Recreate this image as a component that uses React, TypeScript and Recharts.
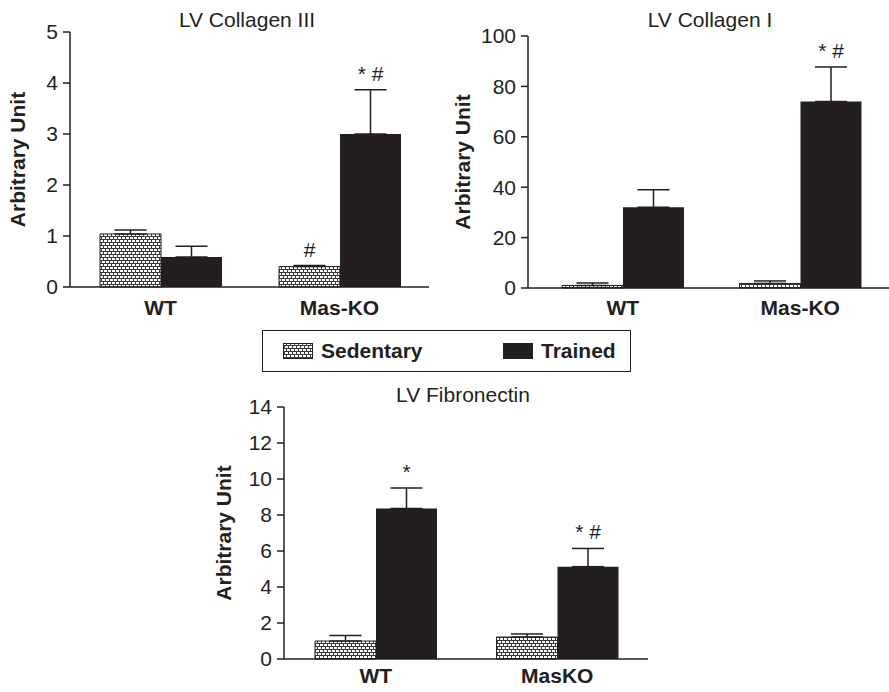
import { Bar, BarChart, ErrorBar, LabelList, Label, XAxis, YAxis } from 'recharts';

// groups on the x axis
const groups = ['WT', 'Mas-KO'];
const fibroGroups = ['WT', 'MasKO'];

const seriesNames = ['Sedentary', 'Trained'];

// LV Collagen III
const col3Sed = [1.04, 0.4];
const col3SedErr = [0.08, 0.02];
const col3SedNote = ['', '#'];
const col3Tr = [0.59, 3.0];
const col3TrErr = [0.21, 0.87];
const col3TrNote = ['', '* #'];
const col3Ticks = [0, 1, 2, 3, 4, 5];

// LV Collagen I
const col1Sed = [1.0, 1.8];
const col1SedErr = [1.0, 1.0];
const col1SedNote = ['', ''];
const col1Tr = [32, 74];
const col1TrErr = [7, 13.7];
const col1TrNote = ['', '* #'];
const col1Ticks = [0, 20, 40, 60, 80, 100];

// LV Fibronectin
const fibSed = [1.0, 1.22];
const fibSedErr = [0.3, 0.17];
const fibSedNote = ['', ''];
const fibTr = [8.36, 5.13];
const fibTrErr = [1.14, 1.01];
const fibTrNote = ['*', '* #'];
const fibTicks = [0, 2, 4, 6, 8, 10, 12, 14];

const ink = '#231f20';
const font = '"Liberation Sans", Arial, Helvetica, sans-serif';

function buildRows(cats: string[], sed: number[], sedErr: number[], sedNote: string[], tr: number[], trErr: number[], trNote: string[]) {
  return cats.map((group, i) => ({
    group,
    sed: sed[i],
    sedErr: [0, sedErr[i]],
    sedCap: sedErr[i],
    sedNote: sedNote[i],
    tr: tr[i],
    trErr: [0, trErr[i]],
    trCap: trErr[i],
    trNote: trNote[i],
  }));
}

function PatternDef({ id }: { id: string }) {
  return (
    <pattern id={id} width={4} height={6} patternUnits="userSpaceOnUse">
      <rect width={4} height={6} fill="#3a3a3a" />
      <rect x={0} y={0} width={3} height={2} fill="#fff" />
      <rect x={2} y={3} width={3} height={2} fill="#fff" />
      <rect x={-2} y={3} width={3} height={2} fill="#fff" />
    </pattern>
  );
}

interface PanelProps {
  id: string;
  rows: ReturnType<typeof buildRows>;
  ticks: number[];
  title: string;
  left: number;
  top: number;
  width: number;
  height: number;
  margin: { top: number; right: number; bottom: number; left: number };
  yWidth: number;
  yLabelDx: number;
  xHeight: number;
  xGap: number;
  padLeft: number;
  titleX: number;
  titleTop: number;
}

function Panel(p: PanelProps) {
  const max = p.ticks[p.ticks.length - 1];
  return (
    <>
      <div
        style={{
          position: 'absolute',
          left: p.titleX - 150,
          top: p.titleTop,
          width: 300,
          textAlign: 'center',
          fontSize: 21,
          lineHeight: '21px',
          color: ink,
        }}
      >
        {p.title}
      </div>
      <div style={{ position: 'absolute', left: p.left, top: p.top }}>
        <BarChart width={p.width} height={p.height} data={p.rows} margin={p.margin} barGap={0} barSize={61}>
          <defs>
            <PatternDef id={p.id} />
          </defs>
          <XAxis
            dataKey="group"
            height={p.xHeight}
            padding={{ left: p.padLeft, right: 0 }}
            tickLine={false}
            tickSize={0}
            tickMargin={p.xGap}
            axisLine={{ stroke: ink, strokeWidth: 1.5 }}
            tick={{ fill: ink, fontSize: 21, fontWeight: 'bold' }}
          />
          <YAxis
            width={p.yWidth}
            domain={[0, max]}
            ticks={p.ticks}
            interval={0}
            tickSize={7}
            tickMargin={5}
            axisLine={{ stroke: ink, strokeWidth: 1.5 }}
            tickLine={{ stroke: ink, strokeWidth: 1.5 }}
            tick={{ fill: ink, fontSize: 21 }}
          >
            <Label
              value="Arbitrary Unit"
              angle={-90}
              position="center"
              dx={p.yLabelDx}
              style={{ fontWeight: 'bold', fontSize: 21, fill: ink }}
            />
          </YAxis>
          <Bar dataKey="sed" stackId="s" fill={`url(#${p.id})`} stroke={ink} strokeWidth={1} isAnimationActive={false}>
            <ErrorBar dataKey="sedErr" width={16} stroke={ink} strokeWidth={1.5} direction="y" />
          </Bar>
          <Bar dataKey="sedCap" stackId="s" fill="none" stroke="none" isAnimationActive={false}>
            <LabelList dataKey="sedNote" position="top" offset={9} fill={ink} fontSize={21} />
          </Bar>
          <Bar dataKey="tr" stackId="t" fill={ink} isAnimationActive={false}>
            <ErrorBar dataKey="trErr" width={16} stroke={ink} strokeWidth={1.5} direction="y" />
          </Bar>
          <Bar dataKey="trCap" stackId="t" fill="none" stroke="none" isAnimationActive={false}>
            <LabelList dataKey="trNote" position="top" offset={9} fill={ink} fontSize={21} />
          </Bar>
        </BarChart>
      </div>
    </>
  );
}

function LegendBox() {
  return (
    <div
      style={{
        position: 'absolute',
        left: 262,
        top: 330,
        width: 369,
        height: 42,
        boxSizing: 'border-box',
        border: `1.5px solid ${ink}`,
      }}
    >
      {seriesNames.map((name, i) => (
        <div
          key={name}
          style={{
            position: 'absolute',
            left: i === 0 ? 20 : 240,
            top: 0,
            height: 40,
            display: 'flex',
            alignItems: 'center',
            fontWeight: 'bold',
            fontSize: 21,
            color: ink,
          }}
        >
          <svg width={30} height={16} style={{ marginRight: 8 }}>
            <defs>
              <PatternDef id="legpat" />
            </defs>
            <rect x={0.5} y={0.5} width={29} height={15} fill={i === 0 ? 'url(#legpat)' : ink} stroke={ink} />
          </svg>
          {name}
        </div>
      ))}
    </div>
  );
}

export default function App() {
  const col3 = buildRows(groups, col3Sed, col3SedErr, col3SedNote, col3Tr, col3TrErr, col3TrNote);
  const col1 = buildRows(groups, col1Sed, col1SedErr, col1SedNote, col1Tr, col1TrErr, col1TrNote);
  const fib = buildRows(fibroGroups, fibSed, fibSedErr, fibSedNote, fibTr, fibTrErr, fibTrNote);

  return (
    <div style={{ position: 'absolute', left: 0, top: 0, width: 889, height: 692, background: '#fff', fontFamily: font, overflow: 'hidden' }}>
      <Panel
        id="pat1"
        rows={col3}
        ticks={col3Ticks}
        title="LV Collagen III"
        left={0}
        top={0}
        width={440}
        height={320}
        margin={{ top: 32, right: 11, bottom: 0, left: 0 }}
        yWidth={70}
        yLabelDx={-17}
        xHeight={33}
        xGap={13}
        padLeft={1}
        titleX={247}
        titleTop={9}
      />
      <Panel
        id="pat2"
        rows={col1}
        ticks={col1Ticks}
        title="LV Collagen I"
        left={440}
        top={0}
        width={449}
        height={320}
        margin={{ top: 36, right: 0, bottom: 0, left: 0 }}
        yWidth={88}
        yLabelDx={-21}
        xHeight={32}
        xGap={12}
        padLeft={6}
        titleX={710}
        titleTop={9}
      />
      <LegendBox />
      <Panel
        id="pat3"
        rows={fib}
        ticks={fibTicks}
        title="LV Fibronectin"
        left={200}
        top={320}
        width={460}
        height={372}
        margin={{ top: 87, right: 12, bottom: 0, left: 0 }}
        yWidth={84}
        yLabelDx={-18}
        xHeight={33}
        xGap={9}
        padLeft={1}
        titleX={463}
        titleTop={384}
      />
    </div>
  );
}
